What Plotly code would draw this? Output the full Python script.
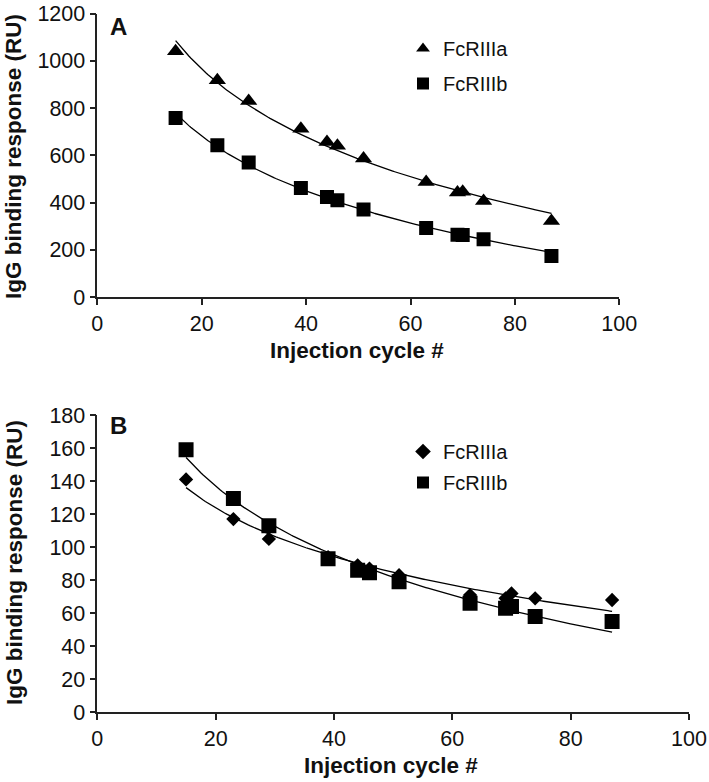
import numpy as np
import plotly.graph_objects as go

# ---------------- data ----------------
cycles = [15, 23, 29, 39, 44, 46, 51, 63, 69, 70, 74, 87]

a_fcr3a = [1040, 917, 830, 712, 656, 640, 586, 487, 442, 445, 406, 322]
a_fcr3b = [758, 642, 569, 461, 423, 409, 370, 292, 264, 262, 244, 174]

b_fcr3a = [141, 117, 105, 94, 89, 87, 83, 71, 69, 72, 69, 68]
b_fcr3b = [159, 129.5, 113, 93, 86, 84.5, 79, 66, 63, 64, 58, 55]

series_names = ["FcRIIIa", "FcRIIIb"]
x_ticks = [0, 20, 40, 60, 80, 100]
ya_ticks = [0, 200, 400, 600, 800, 1000, 1200]
yb_ticks = [0, 20, 40, 60, 80, 100, 120, 140, 160, 180]

FONT = "Liberation Sans, Arial, sans-serif"
W, H = 709, 782


def logfit(x, y):
    x = np.asarray(x, float)
    b, a = np.polyfit(np.log(x), np.asarray(y, float), 1)
    xs = np.linspace(x.min(), x.max(), 200)
    return xs, a + b * np.log(xs)


fig = go.Figure()

# Panel A
for vals, sym, name, size in [(a_fcr3a, "triangle-up", series_names[0], 15),
                              (a_fcr3b, "square", series_names[1], 14)]:
    xs, ys = logfit(cycles, vals)
    fig.add_trace(go.Scatter(x=xs, y=ys, mode="lines", line=dict(color="black", width=1.3),
                             showlegend=False, hoverinfo="skip", xaxis="x", yaxis="y"))
    fig.add_trace(go.Scatter(x=cycles, y=vals, mode="markers", name=name,
                             marker=dict(symbol=sym, size=size, color="black"),
                             legend="legend", legendgroup="a" + name,
                             xaxis="x", yaxis="y"))

# Panel B
for vals, sym, name, size in [(b_fcr3a, "diamond", series_names[0], 11),
                              (b_fcr3b, "square", series_names[1], 15)]:
    xs, ys = logfit(cycles, vals)
    fig.add_trace(go.Scatter(x=xs, y=ys, mode="lines", line=dict(color="black", width=1.3),
                             showlegend=False, hoverinfo="skip", xaxis="x2", yaxis="y2"))
    fig.add_trace(go.Scatter(x=cycles, y=vals, mode="markers", name=name,
                             marker=dict(symbol=sym, size=size, color="black"),
                             legend="legend2", legendgroup="b" + name,
                             xaxis="x2", yaxis="y2"))


def px(x):
    return x / W


def py(y):
    return 1 - y / H


axis_common = dict(showgrid=False, zeroline=False, showline=True, linecolor="#222",
                   linewidth=1.5, ticks="outside", ticklen=6, tickwidth=1.5,
                   tickcolor="#222", automargin=False, ticklabeloverflow="allow",
                   tickfont=dict(family=FONT, size=21.5, color="#111"))

legend_common = dict(font=dict(family=FONT, size=20, color="#111"), bgcolor="rgba(0,0,0,0)",
                     itemsizing="constant", itemwidth=30, xanchor="left", yanchor="top")

fig.update_layout(
    template="none",
    width=W, height=H,
    margin=dict(l=0, r=0, t=0, b=0, autoexpand=False),
    paper_bgcolor="white", plot_bgcolor="white",
    showlegend=True,
    xaxis=dict(domain=[px(97.3), px(619.3)], range=[0, 100], tickvals=x_ticks,
               anchor="y", **axis_common),
    yaxis=dict(domain=[py(297), py(13.5)], range=[0, 1200], tickvals=ya_ticks,
               anchor="x", **axis_common),
    xaxis2=dict(domain=[px(97.3), px(689)], range=[0, 100], tickvals=x_ticks,
                anchor="y2", **axis_common),
    yaxis2=dict(domain=[py(712.3), py(415)], range=[0, 180], tickvals=yb_ticks,
                anchor="x2", **axis_common),
    legend=dict(x=px(403), y=py(29), tracegroupgap=6, **legend_common),
    legend2=dict(x=px(403), y=py(432), tracegroupgap=2, **legend_common),
)

ann_title = dict(family=FONT, size=22.5, color="#111")
annotations = [
    dict(text="<b>IgG binding response (RU)</b>", x=px(13), y=py(157), textangle=-90,
         font=ann_title),
    dict(text="<b>IgG binding response (RU)</b>", x=px(14), y=py(563), textangle=-90,
         font=ann_title),
    dict(text="<b>Injection cycle #</b>", x=px(357), y=py(350), font=ann_title),
    dict(text="<b>Injection cycle #</b>", x=px(391), y=py(765), font=ann_title),
    dict(text="<b>A</b>", x=px(118), y=py(26), font=dict(family=FONT, size=24, color="#111")),
    dict(text="<b>B</b>", x=px(118), y=py(425), font=dict(family=FONT, size=24, color="#111")),
]
for a in annotations:
    a.update(xref="paper", yref="paper", showarrow=False, xanchor="center", yanchor="middle")
fig.update_layout(annotations=annotations)

fig.write_html("out.html",
               config={"displayModeBar": False},
               post_script="document.body.style.margin='0';document.body.style.overflow='hidden';")
